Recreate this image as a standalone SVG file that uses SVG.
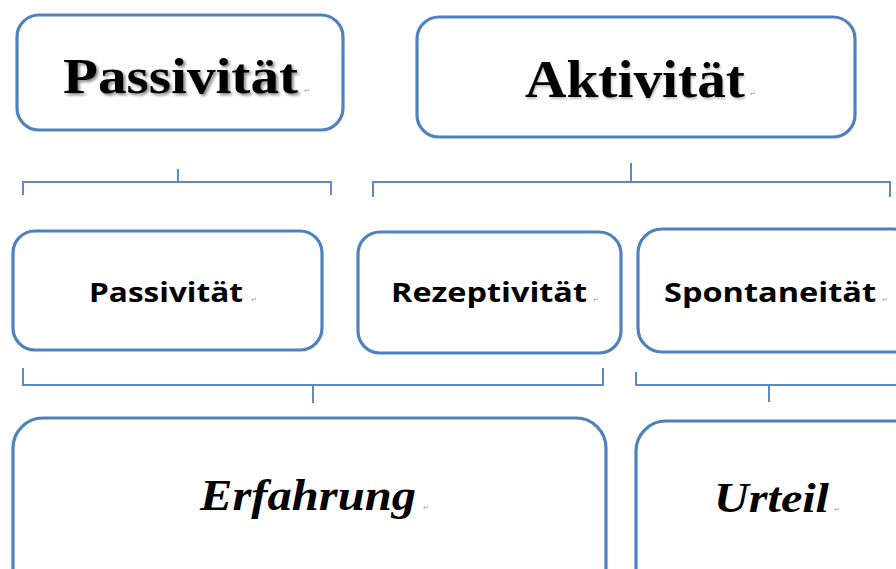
<svg xmlns="http://www.w3.org/2000/svg" width="896" height="569" viewBox="0 0 896 569">
<style>
.box{fill:#fff;stroke:#4F81BD;stroke-width:3.2}
.con{fill:none;stroke:#5B8AC6;stroke-width:2}
.serif{font-family:"Liberation Serif","Times New Roman",serif;font-weight:bold;fill:#000}
.sans{font-family:"Open Sans","Liberation Sans",Arial,sans-serif;font-weight:bold;fill:#000}
.it{font-style:italic}
.pm{font-family:"DejaVu Sans",sans-serif;font-size:7px;fill:#999}
</style>
<defs>
<filter id="sh" x="-10%" y="-20%" width="120%" height="150%">
<feGaussianBlur in="SourceAlpha" stdDeviation="1.6"/>
<feOffset dx="1.5" dy="2" result="b"/>
<feComponentTransfer><feFuncA type="linear" slope="0.5"/></feComponentTransfer>
<feMerge><feMergeNode/><feMergeNode in="SourceGraphic"/></feMerge>
</filter>
<filter id="sh2" x="-10%" y="-20%" width="120%" height="150%">
<feGaussianBlur in="SourceAlpha" stdDeviation="1.2"/>
<feOffset dx="1" dy="1.5" result="b"/>
<feComponentTransfer><feFuncA type="linear" slope="0.25"/></feComponentTransfer>
<feMerge><feMergeNode/><feMergeNode in="SourceGraphic"/></feMerge>
</filter>
</defs>
<rect width="896" height="569" fill="#fff"/>
<g id="connectors">
<path class="con" d="M23 195V182H331V195M178 169V182"/>
<path class="con" d="M373 197V182H890V197M631 163V182"/>
<path class="con" d="M23 368V385H603V368M313 385V403"/>
<path class="con" d="M636 372V385H900M769 385V402"/>
</g>
<g id="passivitaet-top">
<rect class="box" x="17" y="15" width="326" height="115" rx="22"/>
<text class="serif" x="63" y="93" font-size="50" textLength="235" lengthAdjust="spacingAndGlyphs" filter="url(#sh)">Passivität</text>
<text class="pm" x="304" y="93">↵</text>
</g>
<g id="aktivitaet">
<rect class="box" x="417" y="17" width="438" height="120" rx="22"/>
<text class="serif" x="525" y="97" font-size="52" textLength="220" lengthAdjust="spacingAndGlyphs" filter="url(#sh2)">Aktivität</text>
<text class="pm" x="750" y="96">↵</text>
</g>
<g id="passivitaet">
<rect class="box" x="13" y="231" width="309" height="119" rx="22"/>
<text class="sans" x="89" y="302" font-size="26.5" textLength="154" lengthAdjust="spacingAndGlyphs">Passivität</text>
<text class="pm" x="251" y="302">↵</text>
</g>
<g id="rezeptivitaet">
<rect class="box" x="358" y="232" width="263" height="121" rx="22"/>
<text class="sans" x="391" y="302" font-size="26.5" textLength="196" lengthAdjust="spacingAndGlyphs">Rezeptivität</text>
<text class="pm" x="593" y="302">↵</text>
</g>
<g id="spontaneitaet">
<rect class="box" x="638" y="229" width="280" height="123" rx="24"/>
<text class="sans" x="664" y="302" font-size="26.5" textLength="212" lengthAdjust="spacingAndGlyphs">Spontaneität</text>
<text class="pm" x="882" y="302">↵</text>
</g>
<g id="erfahrung">
<rect class="box" x="13" y="418" width="593" height="180" rx="30"/>
<text class="serif it" x="200" y="510" font-size="44" textLength="216" lengthAdjust="spacingAndGlyphs">Erfahrung</text>
<text class="pm" x="423" y="510">↵</text>
</g>
<g id="urteil">
<rect class="box" x="636" y="421" width="290" height="180" rx="30"/>
<text class="serif it" x="714" y="512" font-size="42" textLength="115" lengthAdjust="spacingAndGlyphs">Urteil</text>
<text class="pm" x="834" y="512">↵</text>
</g>
</svg>
